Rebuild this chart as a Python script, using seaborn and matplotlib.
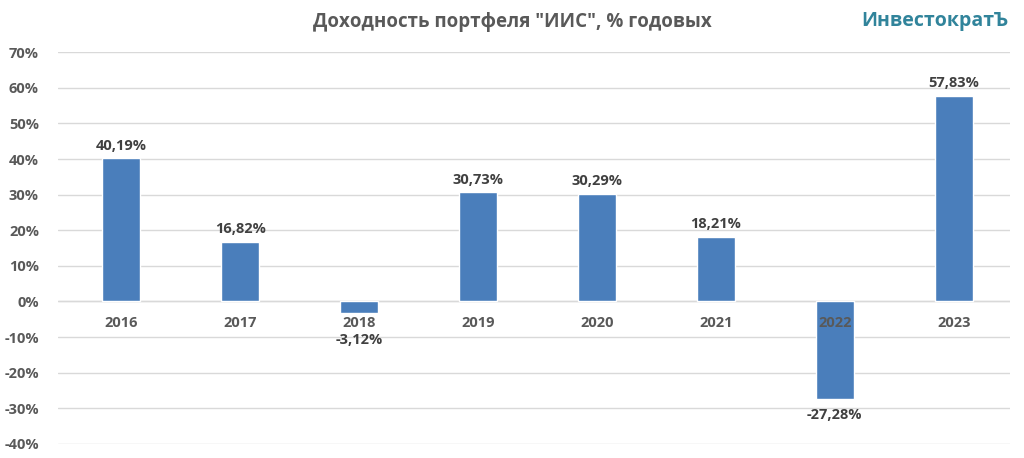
import matplotlib
matplotlib.use("Agg")
import matplotlib.pyplot as plt
import seaborn as sns
import pandas as pd

years = ["2016", "2017", "2018", "2019", "2020", "2021", "2022", "2023"]
values = [40.19, 16.82, -3.12, 30.73, 30.29, 18.21, -27.28, 57.83]
labels = ["40,19%", "16,82%", "-3,12%", "30,73%", "30,29%", "18,21%", "-27,28%", "57,83%"]

sns.set_style("white")
plt.rcParams['font.family'] = ['Open Sans', 'DejaVu Sans']
grey = "#595959"

fig = plt.figure(figsize=(10.24, 4.58), dpi=100)
ax = fig.add_axes([0.057, 0.031, 0.929, 0.855])
df = pd.DataFrame({"year": years, "value": values})
sns.barplot(data=df, x="year", y="value", color="#4a7ebb", saturation=1, width=0.32, ax=ax)
ax.set_ylim(-40, 70)
ax.set_xlim(-0.53, 7.47)
ax.set_yticks(range(-40, 71, 10))
ax.set_yticklabels([f"{t}%" for t in range(-40, 71, 10)], fontsize=10.5, fontweight="bold", color=grey)
ax.yaxis.grid(True, color="#d9d9d9", lw=1)
ax.set_axisbelow(True)
ax.set_xticks([])
ax.set_xlabel(""); ax.set_ylabel("")
ax.tick_params(axis="y", length=0, pad=14)
for s in ax.spines.values():
    s.set_visible(False)
ax.axhline(0, color="#d9d9d9", lw=1, zorder=0)
for i, (y, v, l) in enumerate(zip(years, values, labels)):
    ax.text(i, -6.2, y, ha="center", va="center", fontsize=10.5, fontweight="bold", color=grey, zorder=5)
    if v >= 0:
        ax.text(i, v + 1.5, l, ha="center", va="bottom", fontsize=10.5, fontweight="bold", color="#404040")
    else:
        ax.text(i, min(v - 2.8, -8.8), l, ha="center", va="top", fontsize=10.5, fontweight="bold", color="#404040")
fig.text(0.5, 0.952, 'Доходность портфеля "ИИС", % годовых', ha="center", va="center",
         fontsize=13.5, fontweight="bold", color=grey)
fig.text(0.985, 0.955, "ИнвестократЪ", ha="right", va="center", fontsize=14,
         fontweight="bold", color="#31849b")
fig.savefig("out.png", dpi=100, facecolor="white")
